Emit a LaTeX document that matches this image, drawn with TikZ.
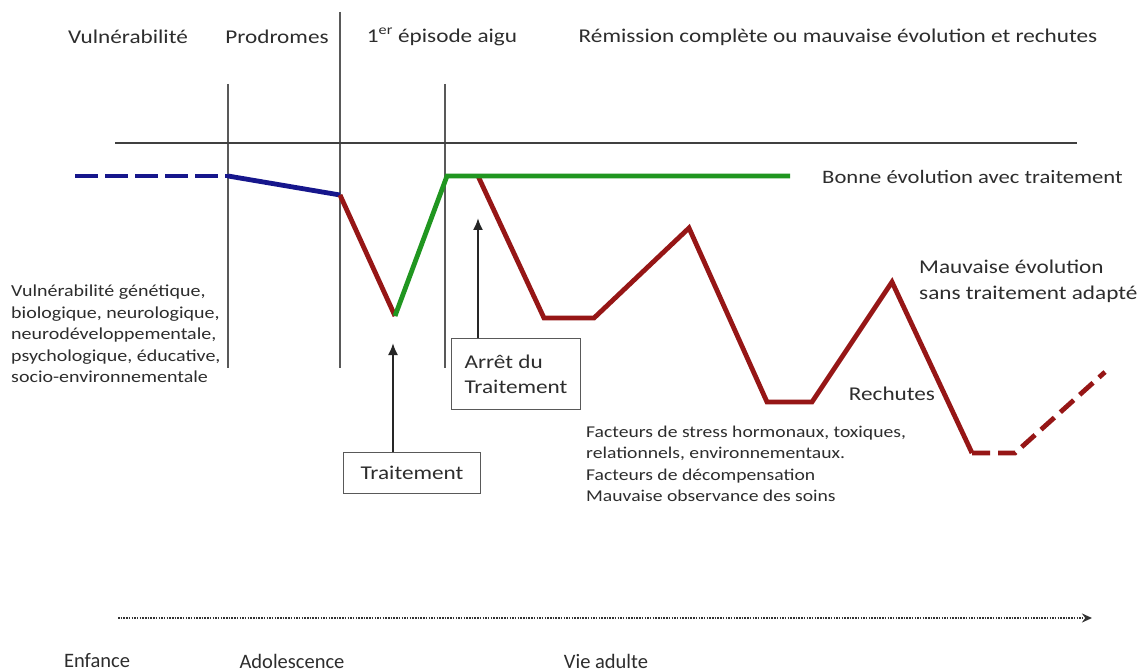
\documentclass[tikz,border=0pt]{standalone}
\usepackage{fontspec}
\setmainfont{Carlito}
\newfontfamily\wfont{Carlito}[FakeStretch=1.19]
\usetikzlibrary{arrows.meta}
\definecolor{cblue}{RGB}{22,22,140}
\definecolor{cred}{RGB}{150,22,22}
\definecolor{cgreen}{RGB}{32,150,32}
\definecolor{ctext}{RGB}{45,45,45}
\begin{document}
\begin{tikzpicture}[x=1pt,y=-1pt,
  lbl/.style={text=ctext,font=\wfont\fontsize{19.5}{23}\selectfont,inner sep=0pt},
  small/.style={text=ctext,font=\wfont\fontsize{16.8}{21.4}\selectfont,align=left,inner sep=0pt},
  boxlbl/.style={draw=gray!70!black,line width=1pt,text=ctext,font=\wfont\fontsize{19.5}{25}\selectfont,align=left,inner xsep=6pt,inner ysep=5pt},
  agelbl/.style={text=ctext,font=\fontsize{20.5}{24}\selectfont,inner sep=0pt},
  vline/.style={draw=gray!70!black,line width=1.2pt},
  curve/.style={line width=4.8pt,line join=miter,line cap=butt},
  uparrow/.style={draw=black!85,line width=2pt,-{Latex[length=12pt,width=10pt]}}
]
\useasboundingbox (0,0) rectangle (1141,671);
\fill[white] (0,0) rectangle (1141,671);

% top labels
\node[lbl] (tv) at (128,37) {Vulnérabilité};
\node[lbl] (tp) at (277,37) {Prodromes};
\node[lbl] (te) at (442,37) {1\textsuperscript{er} épisode aigu};
\node[lbl] (tr) at (838,37) {Rémission complète ou mauvaise évolution et rechutes};

% vertical lines and horizontal baseline
\coordinate (v1t) at (228,84);  \coordinate (v1b) at (228,368);
\coordinate (v2t) at (340,12);  \coordinate (v2b) at (340,368);
\coordinate (v3t) at (445,84);  \coordinate (v3b) at (445,368);
\coordinate (hl) at (115,143);  \coordinate (hr) at (1077,143);
\draw[vline] (v1t) -- (v1b);
\draw[vline] (v2t) -- (v2b);
\draw[vline] (v3t) -- (v3b);
\draw[draw=black!75,line width=1.3pt] (hl) -- (hr);

% curve points
\coordinate (b0) at (75,176);
\coordinate (b1) at (228,176);
\coordinate (b2) at (340,195);
\coordinate (r1) at (395,316);
\coordinate (g1) at (447,176);
\coordinate (g2) at (790,176);
\coordinate (s0) at (478,176);
\coordinate (s1) at (544,318);
\coordinate (s2) at (594,318);
\coordinate (s3) at (689,228);
\coordinate (s4) at (767,402);
\coordinate (s5) at (812,402);
\coordinate (s6) at (892,282);
\coordinate (s7) at (972,453);
\coordinate (s8) at (1015,453);
\coordinate (s9) at (1105,372);

\draw[curve,cblue,dash pattern=on 23pt off 7pt] (b0) -- (b1);
\draw[curve,cblue] (b1) -- (b2);
\draw[curve,cred] (b2) -- (r1);
\draw[curve,cred] (s0) -- (s1) -- (s2) -- (s3) -- (s4) -- (s5) -- (s6) -- (s7);
\draw[curve,cgreen] (r1) -- (g1) -- (g2);
\draw[curve,cred,dash pattern=on 18pt off 8pt] (s7) -- (s8) -- (s9);

% right labels
\node[lbl,anchor=west,font=\wfont\fontsize{19}{23}\selectfont] (bonne) at (822,177) {Bonne évolution avec traitement};
\node[lbl,anchor=west,align=left,font=\wfont\fontsize{19.5}{26}\selectfont] (mauv) at (919,281) {Mauvaise évolution\\sans traitement adapté};
\node[lbl] (rech) at (892,394) {Rechutes};

% left text
\node[small,anchor=west] (vuln) at (11,334) {Vulnérabilité génétique,\\biologique, neurologique,\\neurodéveloppementale,\\psychologique, éducative,\\socio-environnementale};

% factors text
\node[small,anchor=west,font=\wfont\fontsize{16.5}{21.4}\selectfont] (fact) at (586,464) {Facteurs de stress hormonaux, toxiques,\\relationnels, environnementaux.\\Facteurs de décompensation\\Mauvaise observance des soins};

% boxes and arrows
\node[boxlbl,anchor=north west,minimum width=129pt,minimum height=71pt] (arret) at (451,338) {Arrêt du\\Traitement};
\node[boxlbl,anchor=north west,minimum width=137pt,minimum height=41pt,align=center] (trait) at (343,452) {Traitement};
\coordinate (a1) at (478,218);
\coordinate (a2) at (393,343);
\draw[uparrow] (arret.north -| a1) -- (a1);
\draw[uparrow] (trait.north -| a2) -- (a2);

% bottom time axis
\coordinate (tl) at (118,618);
\coordinate (tr2) at (1092,618);
\draw[black!80,line width=2pt,dash pattern=on 1.5pt off 1.2pt,-{Stealth[length=10pt,width=9pt]}] (tl) -- (tr2);
\node[agelbl] (enf) at (97,661) {Enfance};
\node[agelbl] (ado) at (292,661) {Adolescence};
\node[agelbl] (vie) at (606,661) {Vie adulte};
\end{tikzpicture}
\end{document}
